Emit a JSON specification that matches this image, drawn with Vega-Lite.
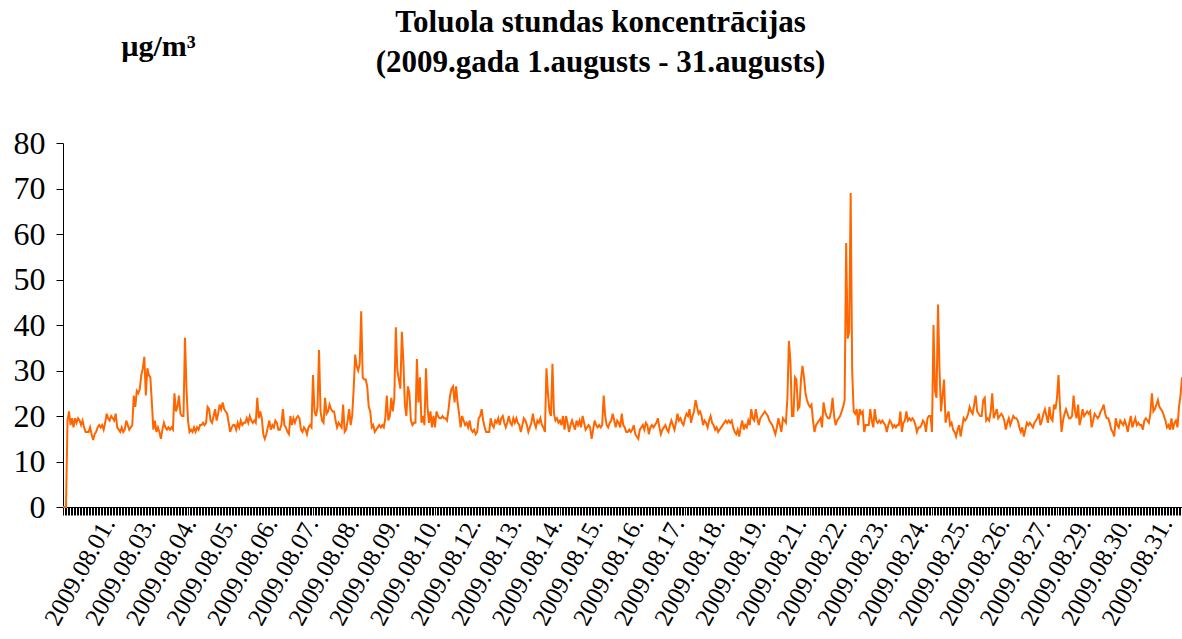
{
  "$schema": "https://vega.github.io/schema/vega-lite/v6.json",
  "autosize": "none",
  "width": 1119,
  "height": 364,
  "padding": {"left": 63, "top": 143, "right": 0, "bottom": 132},
  "background": "white",
  "title": {
    "text": ["Toluola stundas koncentrācijas", "(2009.gada 1.augusts - 31.augusts)"],
    "font": "Liberation Serif",
    "fontSize": 31,
    "fontWeight": "bold",
    "color": "black",
    "anchor": "middle",
    "frame": "group",
    "baseline": "bottom",
    "dx": -22,
    "offset": -79,
    "lineHeight": 40
  },
  "config": {"view": {"stroke": null}},
  "data": {"values": [
{"h":0,"v":0},{"h":1,"v":0},{"h":2,"v":0},{"h":3,"v":19},{"h":4,"v":21},{"h":5,"v":18},{"h":6,"v":19.5},{"h":7,"v":17.5},{"h":8,"v":19.5},{"h":9,"v":18.5},
{"h":10,"v":19.5},{"h":11,"v":19},{"h":12,"v":18},{"h":13,"v":19},{"h":14,"v":17.5},{"h":15,"v":16.5},{"h":16,"v":16.5},{"h":17,"v":16.5},{"h":18,"v":17.5},{"h":19,"v":16},
{"h":20,"v":14.7},{"h":21,"v":16},{"h":22,"v":16.5},{"h":23,"v":17.5},{"h":24,"v":18},{"h":25,"v":17.5},{"h":26,"v":18},{"h":27,"v":17},{"h":28,"v":18.5},{"h":29,"v":20.5},
{"h":30,"v":19.5},{"h":31,"v":19},{"h":32,"v":20},{"h":33,"v":19.5},{"h":34,"v":19},{"h":35,"v":20.5},{"h":36,"v":17.5},{"h":37,"v":17},{"h":38,"v":16.5},{"h":39,"v":17.5},
{"h":40,"v":16.5},{"h":41,"v":17},{"h":42,"v":19},{"h":43,"v":18},{"h":44,"v":17},{"h":45,"v":17.5},{"h":46,"v":18},{"h":47,"v":24.5},{"h":48,"v":22},{"h":49,"v":25.5},
{"h":50,"v":25},{"h":51,"v":26},{"h":52,"v":29},{"h":53,"v":30.5},{"h":54,"v":33},{"h":55,"v":24.5},{"h":56,"v":30.5},{"h":57,"v":29},{"h":58,"v":28.5},{"h":59,"v":23},
{"h":60,"v":17},{"h":61,"v":19},{"h":62,"v":16.5},{"h":63,"v":17.5},{"h":64,"v":16.5},{"h":65,"v":15},{"h":66,"v":17},{"h":67,"v":18.5},{"h":68,"v":17.5},{"h":69,"v":17},
{"h":70,"v":17.5},{"h":71,"v":17},{"h":72,"v":17.5},{"h":73,"v":17},{"h":74,"v":25},{"h":75,"v":21},{"h":76,"v":22},{"h":77,"v":24.5},{"h":78,"v":20.5},{"h":79,"v":20},
{"h":80,"v":20},{"h":81,"v":37.2},{"h":82,"v":26},{"h":83,"v":19},{"h":84,"v":16.5},{"h":85,"v":17},{"h":86,"v":16.5},{"h":87,"v":17.5},{"h":88,"v":16.5},{"h":89,"v":17.5},
{"h":90,"v":17},{"h":91,"v":18},{"h":92,"v":18},{"h":93,"v":18.5},{"h":94,"v":18},{"h":95,"v":18.5},{"h":96,"v":22},{"h":97,"v":21.5},{"h":98,"v":19},{"h":99,"v":18.5},
{"h":100,"v":20},{"h":101,"v":21.5},{"h":102,"v":19},{"h":103,"v":20.5},{"h":104,"v":22.5},{"h":105,"v":21.5},{"h":106,"v":23},{"h":107,"v":21.5},{"h":108,"v":21},{"h":109,"v":20.5},
{"h":110,"v":18.5},{"h":111,"v":16.5},{"h":112,"v":17.5},{"h":113,"v":18},{"h":114,"v":18},{"h":115,"v":17},{"h":116,"v":18.5},{"h":117,"v":17.5},{"h":118,"v":19},{"h":119,"v":18},
{"h":120,"v":18.5},{"h":121,"v":18.5},{"h":122,"v":19.5},{"h":123,"v":18.5},{"h":124,"v":20},{"h":125,"v":19},{"h":126,"v":18.5},{"h":127,"v":19},{"h":128,"v":18.5},{"h":129,"v":24},
{"h":130,"v":19.5},{"h":131,"v":21},{"h":132,"v":19.5},{"h":133,"v":16},{"h":134,"v":15},{"h":135,"v":16},{"h":136,"v":17.5},{"h":137,"v":19},{"h":138,"v":17},{"h":139,"v":18},
{"h":140,"v":17.5},{"h":141,"v":19},{"h":142,"v":18.5},{"h":143,"v":17},{"h":144,"v":17},{"h":145,"v":18},{"h":146,"v":21.5},{"h":147,"v":18},{"h":148,"v":17.5},{"h":149,"v":16.5},
{"h":150,"v":16},{"h":151,"v":20},{"h":152,"v":18},{"h":153,"v":19.5},{"h":154,"v":18.5},{"h":155,"v":19.5},{"h":156,"v":20},{"h":157,"v":19.5},{"h":158,"v":17},{"h":159,"v":16.5},
{"h":160,"v":17.5},{"h":161,"v":17},{"h":162,"v":16},{"h":163,"v":17.5},{"h":164,"v":18},{"h":165,"v":17.5},{"h":166,"v":29},{"h":167,"v":21},{"h":168,"v":20},{"h":169,"v":22},
{"h":170,"v":34.5},{"h":171,"v":21},{"h":172,"v":19},{"h":173,"v":18.5},{"h":174,"v":24},{"h":175,"v":20.5},{"h":176,"v":21},{"h":177,"v":22.5},{"h":178,"v":21.5},{"h":179,"v":21},
{"h":180,"v":21},{"h":181,"v":19},{"h":182,"v":17.5},{"h":183,"v":18.5},{"h":184,"v":18},{"h":185,"v":17.5},{"h":186,"v":22.5},{"h":187,"v":16.5},{"h":188,"v":17},{"h":189,"v":19},
{"h":190,"v":21.5},{"h":191,"v":18},{"h":192,"v":20},{"h":193,"v":26},{"h":194,"v":33.5},{"h":195,"v":31},{"h":196,"v":30},{"h":197,"v":31.5},{"h":198,"v":43},{"h":199,"v":28.5},
{"h":200,"v":28},{"h":201,"v":28},{"h":202,"v":26.5},{"h":203,"v":22},{"h":204,"v":21},{"h":205,"v":17.5},{"h":206,"v":18},{"h":207,"v":16.5},{"h":208,"v":17},{"h":209,"v":17.5},
{"h":210,"v":18},{"h":211,"v":17.5},{"h":212,"v":18},{"h":213,"v":17.5},{"h":214,"v":19.5},{"h":215,"v":24.5},{"h":216,"v":19},{"h":217,"v":20},{"h":218,"v":24},{"h":219,"v":21},
{"h":220,"v":24},{"h":221,"v":39.5},{"h":222,"v":30},{"h":223,"v":28},{"h":224,"v":26},{"h":225,"v":38.5},{"h":226,"v":32},{"h":227,"v":22.5},{"h":228,"v":20},{"h":229,"v":26.5},
{"h":230,"v":25},{"h":231,"v":19},{"h":232,"v":18},{"h":233,"v":18.5},{"h":234,"v":18.5},{"h":235,"v":32.5},{"h":236,"v":23},{"h":237,"v":28.5},{"h":238,"v":18.5},{"h":239,"v":20},
{"h":240,"v":18},{"h":241,"v":30.5},{"h":242,"v":22},{"h":243,"v":18.5},{"h":244,"v":21},{"h":245,"v":17.5},{"h":246,"v":20},{"h":247,"v":17.5},{"h":248,"v":21},{"h":249,"v":20},
{"h":250,"v":19.5},{"h":251,"v":19.5},{"h":252,"v":20},{"h":253,"v":19.5},{"h":254,"v":19.5},{"h":255,"v":19},{"h":256,"v":21.5},{"h":257,"v":24.5},{"h":258,"v":26},{"h":259,"v":26.5},
{"h":260,"v":23},{"h":261,"v":26.5},{"h":262,"v":23},{"h":263,"v":20.5},{"h":264,"v":17.5},{"h":265,"v":20},{"h":266,"v":19},{"h":267,"v":18},{"h":268,"v":18.5},{"h":269,"v":17.5},
{"h":270,"v":19},{"h":271,"v":17},{"h":272,"v":16.5},{"h":273,"v":17},{"h":274,"v":16},{"h":275,"v":16.5},{"h":276,"v":19.5},{"h":277,"v":20},{"h":278,"v":21.5},{"h":279,"v":19},
{"h":280,"v":17.5},{"h":281,"v":16.5},{"h":282,"v":16.5},{"h":283,"v":16.5},{"h":284,"v":19.5},{"h":285,"v":18},{"h":286,"v":17.5},{"h":287,"v":19},{"h":288,"v":18.5},{"h":289,"v":19.5},
{"h":290,"v":18},{"h":291,"v":19.5},{"h":292,"v":20},{"h":293,"v":18.5},{"h":294,"v":17.5},{"h":295,"v":18.5},{"h":296,"v":20},{"h":297,"v":18.5},{"h":298,"v":18},{"h":299,"v":19.5},
{"h":300,"v":18.5},{"h":301,"v":19.5},{"h":302,"v":18.5},{"h":303,"v":18},{"h":304,"v":16.5},{"h":305,"v":18},{"h":306,"v":19.5},{"h":307,"v":19},{"h":308,"v":18},{"h":309,"v":16.5},
{"h":310,"v":17.5},{"h":311,"v":18.5},{"h":312,"v":20.5},{"h":313,"v":18.5},{"h":314,"v":17.5},{"h":315,"v":19},{"h":316,"v":18.5},{"h":317,"v":19.5},{"h":318,"v":18},{"h":319,"v":17.5},
{"h":320,"v":16.5},{"h":321,"v":30.5},{"h":322,"v":25},{"h":323,"v":21},{"h":324,"v":20},{"h":325,"v":31.5},{"h":326,"v":20.5},{"h":327,"v":19},{"h":328,"v":19.5},{"h":329,"v":18.5},
{"h":330,"v":19},{"h":331,"v":18},{"h":332,"v":20},{"h":333,"v":17},{"h":334,"v":20},{"h":335,"v":18.5},{"h":336,"v":16.5},{"h":337,"v":18},{"h":338,"v":19},{"h":339,"v":18},
{"h":340,"v":17},{"h":341,"v":19},{"h":342,"v":18},{"h":343,"v":19},{"h":344,"v":17.5},{"h":345,"v":20},{"h":346,"v":18.5},{"h":347,"v":17},{"h":348,"v":17.5},{"h":349,"v":18},
{"h":350,"v":17.5},{"h":351,"v":15},{"h":352,"v":17},{"h":353,"v":19},{"h":354,"v":18},{"h":355,"v":17.5},{"h":356,"v":18},{"h":357,"v":17.5},{"h":358,"v":18},{"h":359,"v":24.5},
{"h":360,"v":20},{"h":361,"v":18},{"h":362,"v":17.5},{"h":363,"v":18.5},{"h":364,"v":19},{"h":365,"v":20.5},{"h":366,"v":19},{"h":367,"v":17.5},{"h":368,"v":19},{"h":369,"v":18.5},
{"h":370,"v":17.5},{"h":371,"v":20.5},{"h":372,"v":18},{"h":373,"v":17.5},{"h":374,"v":16.5},{"h":375,"v":16.5},{"h":376,"v":17},{"h":377,"v":16.5},{"h":378,"v":17},{"h":379,"v":18},
{"h":380,"v":16},{"h":381,"v":15.5},{"h":382,"v":15},{"h":383,"v":17},{"h":384,"v":17.5},{"h":385,"v":18},{"h":386,"v":17},{"h":387,"v":18.5},{"h":388,"v":18},{"h":389,"v":16},
{"h":390,"v":17.5},{"h":391,"v":18},{"h":392,"v":17.5},{"h":393,"v":18},{"h":394,"v":18.5},{"h":395,"v":19.5},{"h":396,"v":17.5},{"h":397,"v":16},{"h":398,"v":17},{"h":399,"v":17.5},
{"h":400,"v":18},{"h":401,"v":17},{"h":402,"v":16.5},{"h":403,"v":18},{"h":404,"v":19},{"h":405,"v":18},{"h":406,"v":17},{"h":407,"v":18.5},{"h":408,"v":20.5},{"h":409,"v":19},
{"h":410,"v":19.5},{"h":411,"v":18.5},{"h":412,"v":18},{"h":413,"v":19.5},{"h":414,"v":20.5},{"h":415,"v":20},{"h":416,"v":21.5},{"h":417,"v":18.5},{"h":418,"v":20},{"h":419,"v":21},
{"h":420,"v":23.5},{"h":421,"v":22},{"h":422,"v":20.5},{"h":423,"v":21},{"h":424,"v":20},{"h":425,"v":18},{"h":426,"v":19},{"h":427,"v":18.5},{"h":428,"v":17.5},{"h":429,"v":19},
{"h":430,"v":20},{"h":431,"v":18.5},{"h":432,"v":18},{"h":433,"v":17},{"h":434,"v":17.5},{"h":435,"v":16.5},{"h":436,"v":17},{"h":437,"v":17.5},{"h":438,"v":18},{"h":439,"v":18.5},
{"h":440,"v":19},{"h":441,"v":18.5},{"h":442,"v":19},{"h":443,"v":18.5},{"h":444,"v":19},{"h":445,"v":17.5},{"h":446,"v":16.5},{"h":447,"v":16},{"h":448,"v":17},{"h":449,"v":15.5},
{"h":450,"v":17.5},{"h":451,"v":19},{"h":452,"v":17},{"h":453,"v":18},{"h":454,"v":17.5},{"h":455,"v":19},{"h":456,"v":18},{"h":457,"v":21.5},{"h":458,"v":19.5},{"h":459,"v":19},
{"h":460,"v":21.5},{"h":461,"v":19.5},{"h":462,"v":18},{"h":463,"v":19.5},{"h":464,"v":20},{"h":465,"v":20.5},{"h":466,"v":21},{"h":467,"v":20.5},{"h":468,"v":20},{"h":469,"v":19},
{"h":470,"v":18.5},{"h":471,"v":18},{"h":472,"v":17},{"h":473,"v":16},{"h":474,"v":17.5},{"h":475,"v":19.5},{"h":476,"v":18},{"h":477,"v":16.5},{"h":478,"v":19.5},{"h":479,"v":19},
{"h":480,"v":18.5},{"h":481,"v":24},{"h":482,"v":36.5},{"h":483,"v":32},{"h":484,"v":20},{"h":485,"v":20},{"h":486,"v":28.5},{"h":487,"v":28},{"h":488,"v":21.5},{"h":489,"v":22},
{"h":490,"v":28},{"h":491,"v":31},{"h":492,"v":28.5},{"h":493,"v":25},{"h":494,"v":23.5},{"h":495,"v":22.5},{"h":496,"v":22},{"h":497,"v":22.5},{"h":498,"v":19},{"h":499,"v":16.5},
{"h":500,"v":18},{"h":501,"v":18.5},{"h":502,"v":19},{"h":503,"v":19.5},{"h":504,"v":17.5},{"h":505,"v":23},{"h":506,"v":21},{"h":507,"v":20},{"h":508,"v":19.5},{"h":509,"v":19.5},
{"h":510,"v":21},{"h":511,"v":24},{"h":512,"v":20},{"h":513,"v":18},{"h":514,"v":19},{"h":515,"v":19.5},{"h":516,"v":20},{"h":517,"v":21},{"h":518,"v":22},{"h":519,"v":23.5},
{"h":520,"v":58},{"h":521,"v":37},{"h":522,"v":38.5},{"h":523,"v":69},{"h":524,"v":30},{"h":525,"v":21},{"h":526,"v":20.5},{"h":527,"v":21.5},{"h":528,"v":18},{"h":529,"v":21.5},
{"h":530,"v":20.5},{"h":531,"v":21},{"h":532,"v":16.5},{"h":533,"v":18},{"h":534,"v":18},{"h":535,"v":18},{"h":536,"v":21.5},{"h":537,"v":19},{"h":538,"v":17.5},{"h":539,"v":21.5},
{"h":540,"v":19},{"h":541,"v":18.5},{"h":542,"v":19},{"h":543,"v":18.5},{"h":544,"v":19},{"h":545,"v":18.5},{"h":546,"v":18},{"h":547,"v":16.5},{"h":548,"v":18},{"h":549,"v":19},
{"h":550,"v":18.5},{"h":551,"v":17.5},{"h":552,"v":18},{"h":553,"v":17.5},{"h":554,"v":18},{"h":555,"v":18},{"h":556,"v":21},{"h":557,"v":16.5},{"h":558,"v":18.5},{"h":559,"v":19},
{"h":560,"v":21},{"h":561,"v":19},{"h":562,"v":19.5},{"h":563,"v":19},{"h":564,"v":19.5},{"h":565,"v":19},{"h":566,"v":18},{"h":567,"v":16.5},{"h":568,"v":17.5},{"h":569,"v":17.5},
{"h":570,"v":18},{"h":571,"v":19},{"h":572,"v":18.5},{"h":573,"v":16.5},{"h":574,"v":19.5},{"h":575,"v":20},{"h":576,"v":20},{"h":577,"v":16.5},{"h":578,"v":40},{"h":579,"v":25.5},
{"h":580,"v":24},{"h":581,"v":44.5},{"h":582,"v":30},{"h":583,"v":21},{"h":584,"v":24.5},{"h":585,"v":28},{"h":586,"v":18.5},{"h":587,"v":20},{"h":588,"v":21},{"h":589,"v":18},
{"h":590,"v":18.5},{"h":591,"v":17},{"h":592,"v":16.5},{"h":593,"v":15.5},{"h":594,"v":17},{"h":595,"v":18},{"h":596,"v":15.5},{"h":597,"v":17.5},{"h":598,"v":19.5},{"h":599,"v":19},
{"h":600,"v":19.5},{"h":601,"v":20.5},{"h":602,"v":22},{"h":603,"v":21},{"h":604,"v":20.5},{"h":605,"v":22.5},{"h":606,"v":24.5},{"h":607,"v":21},{"h":608,"v":20.5},{"h":609,"v":20},
{"h":610,"v":20},{"h":611,"v":23.5},{"h":612,"v":24},{"h":613,"v":19},{"h":614,"v":19.5},{"h":615,"v":19},{"h":616,"v":21},{"h":617,"v":25},{"h":618,"v":19.5},{"h":619,"v":20.5},
{"h":620,"v":21.5},{"h":621,"v":19.5},{"h":622,"v":20},{"h":623,"v":20.5},{"h":624,"v":20},{"h":625,"v":19},{"h":626,"v":17},{"h":627,"v":18.5},{"h":628,"v":19.5},{"h":629,"v":18},
{"h":630,"v":19},{"h":631,"v":20},{"h":632,"v":19.5},{"h":633,"v":19.5},{"h":634,"v":19},{"h":635,"v":17.5},{"h":636,"v":16.5},{"h":637,"v":17.5},{"h":638,"v":15.5},{"h":639,"v":17},
{"h":640,"v":18.5},{"h":641,"v":18},{"h":642,"v":18.5},{"h":643,"v":18},{"h":644,"v":17.5},{"h":645,"v":18.5},{"h":646,"v":19},{"h":647,"v":19.5},{"h":648,"v":20.5},{"h":649,"v":18},
{"h":650,"v":19},{"h":651,"v":20.5},{"h":652,"v":21.5},{"h":653,"v":20},{"h":654,"v":18.5},{"h":655,"v":22},{"h":656,"v":19.5},{"h":657,"v":19},{"h":658,"v":22.5},{"h":659,"v":21.5},
{"h":660,"v":24},{"h":661,"v":29},{"h":662,"v":22},{"h":663,"v":16.5},{"h":664,"v":19},{"h":665,"v":20.5},{"h":666,"v":21.5},{"h":667,"v":20.5},{"h":668,"v":19.5},{"h":669,"v":19.5},
{"h":670,"v":20},{"h":671,"v":24.5},{"h":672,"v":21},{"h":673,"v":19.5},{"h":674,"v":22.5},{"h":675,"v":18},{"h":676,"v":19.5},{"h":677,"v":21.5},{"h":678,"v":20},{"h":679,"v":20.5},
{"h":680,"v":21},{"h":681,"v":20.5},{"h":682,"v":21},{"h":683,"v":17.5},{"h":684,"v":19},{"h":685,"v":20.5},{"h":686,"v":20},{"h":687,"v":19.5},{"h":688,"v":20},{"h":689,"v":21},
{"h":690,"v":21.5},{"h":691,"v":22.5},{"h":692,"v":20.5},{"h":693,"v":19.5},{"h":694,"v":19.5},{"h":695,"v":18.5},{"h":696,"v":17},{"h":697,"v":16.5},{"h":698,"v":15.5},{"h":699,"v":19.5},
{"h":700,"v":18},{"h":701,"v":17.5},{"h":702,"v":19},{"h":703,"v":18.5},{"h":704,"v":18},{"h":705,"v":19},{"h":706,"v":18},{"h":707,"v":16.5},{"h":708,"v":18.5},{"h":709,"v":20},
{"h":710,"v":17.5},{"h":711,"v":18.5},{"h":712,"v":19.5},{"h":713,"v":18},{"h":714,"v":18.5},{"h":715,"v":18},{"h":716,"v":18},{"h":717,"v":17},{"h":718,"v":19},{"h":719,"v":19.5},
{"h":720,"v":19},{"h":721,"v":18.5},{"h":722,"v":20.5},{"h":723,"v":25},{"h":724,"v":21},{"h":725,"v":21.5},{"h":726,"v":22.5},{"h":727,"v":23.5},{"h":728,"v":22},{"h":729,"v":21.5},
{"h":730,"v":21},{"h":731,"v":20},{"h":732,"v":19},{"h":733,"v":17.5},{"h":734,"v":18},{"h":735,"v":17},{"h":736,"v":19.5},{"h":737,"v":17},{"h":738,"v":18.5},{"h":739,"v":19},
{"h":740,"v":17.5},{"h":741,"v":22},{"h":742,"v":24.5},{"h":743,"v":28.5}
  ]},
  "mark": {"type": "line", "color": "#FF6600", "strokeWidth": 2, "clip": false},
  "encoding": {
    "x": {
      "field": "h",
      "type": "ordinal",
      "sort": "ascending",
      "scale": {"type": "point", "padding": 0},
      "axis": {
        "title": null,
        "domain": true,
        "domainColor": "black",
        "domainWidth": 1,
        "ticks": true,
        "tickColor": "black",
        "tickSize": 8,
        "tickWidth": 1,
        "labelOverlap": false,
        "labelBound": false,
        "labelFlush": false,
        "labelAngle": -61,
        "labelAlign": "right",
        "labelBaseline": "middle",
        "labelPadding": 4,
        "labelFont": "Liberation Serif",
        "labelFontSize": 25,
        "labelColor": "black",
        "labelExpr": "datum.value >= 30 && (datum.value - 30) % 27 == 0 ? ['2009.08.01.','2009.08.03.','2009.08.04.','2009.08.05.','2009.08.06.','2009.08.07.','2009.08.08.','2009.08.09.','2009.08.10.','2009.08.12.','2009.08.13.','2009.08.14.','2009.08.15.','2009.08.16.','2009.08.17.','2009.08.18.','2009.08.19.','2009.08.21.','2009.08.22.','2009.08.23.','2009.08.24.','2009.08.25.','2009.08.26.','2009.08.27.','2009.08.29.','2009.08.30.','2009.08.31.'][(datum.value - 30) / 27] : ''"
      }
    },
    "y": {
      "field": "v",
      "type": "quantitative",
      "scale": {"domain": [0, 80], "nice": false, "zero": true},
      "axis": {
        "title": "µg/m³",
        "titleAngle": 0,
        "titleX": 95,
        "titleY": -97,
        "titleAlign": "center",
        "titleBaseline": "middle",
        "titleFont": "Liberation Serif",
        "titleFontSize": 30,
        "titleFontWeight": "bold",
        "titleColor": "black",
        "values": [0, 10, 20, 30, 40, 50, 60, 70, 80],
        "grid": false,
        "domain": true,
        "domainColor": "black",
        "ticks": true,
        "tickColor": "black",
        "tickSize": 7,
        "labelFont": "Liberation Serif",
        "labelFontSize": 32,
        "labelColor": "black",
        "labelPadding": 11,
        "labelFlush": false,
        "labelBound": false,
        "labelOverlap": false
      }
    }
  }
}
